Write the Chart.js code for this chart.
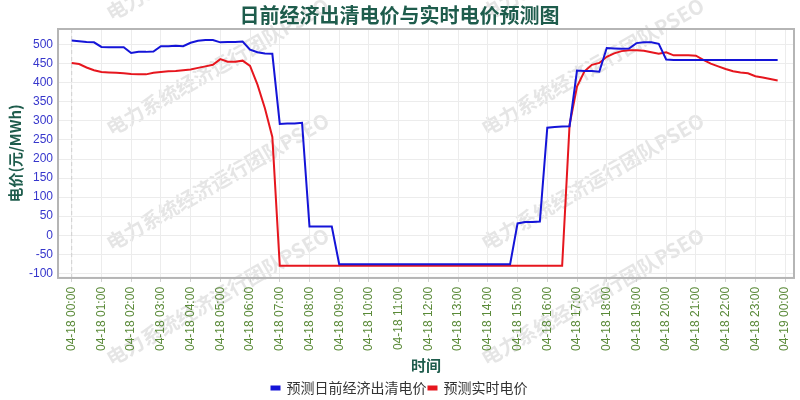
<!DOCTYPE html>
<html>
<head>
<meta charset="utf-8">
<script src="https://cdn.jsdelivr.net/npm/chart.js@4/dist/chart.umd.min.js"></script>
<style>
  html, body { margin: 0; padding: 0; background: #ffffff; }
  #wrap { width: 800px; height: 400px; position: relative; }
</style>
</head>
<body>
<div id="wrap"><canvas id="priceChart"></canvas></div>
<script>
// tick labels on the time axis (one per hour)
var hourLabels = [
  '04-18 00:00', '04-18 01:00', '04-18 02:00', '04-18 03:00', '04-18 04:00', '04-18 05:00',
  '04-18 06:00', '04-18 07:00', '04-18 08:00', '04-18 09:00', '04-18 10:00', '04-18 11:00',
  '04-18 12:00', '04-18 13:00', '04-18 14:00', '04-18 15:00', '04-18 16:00', '04-18 17:00',
  '04-18 18:00', '04-18 19:00', '04-18 20:00', '04-18 21:00', '04-18 22:00', '04-18 23:00',
  '04-19 00:00'
];
var yTicks = [-100, -50, 0, 50, 100, 150, 200, 250, 300, 350, 400, 450, 500];

// 15-minute values, 00:00 .. 23:45
var dayAhead = [
  511, 509, 507, 506,  494, 493, 493, 493,  478, 481, 481, 482,  496, 496, 497, 496,
  505, 510, 512, 512,  506, 507, 507, 508,  487, 480, 477, 476,  292, 293, 293, 295,
  23, 23, 23, 23,  -76, -76, -76, -76,  -76, -76, -76, -76,  -76, -76, -76, -76,
  -76, -76, -76, -76,  -76, -76, -76, -76,  -76, -76, -76, -76,  31, 35, 35, 36,
  282, 284, 285, 286,  432, 431, 431, 429,  491, 490, 489, 490,  504, 506, 506, 502,
  461, 460, 460, 460,  460, 460, 460, 460,  460, 460, 460, 460,  460, 460, 460, 460
];
var realTime = [
  452, 449, 440, 433,  428, 427, 426, 425,  423, 422, 422, 426,  428, 430, 431, 433,
  435, 439, 443, 447,  462, 455, 455, 458,  444, 395, 333, 258,  -80, -80, -80, -80,
  -80, -80, -80, -80,  -80, -80, -80, -80,  -80, -80, -80, -80,  -80, -80, -80, -80,
  -80, -80, -80, -80,  -80, -80, -80, -80,  -80, -80, -80, -80,  -80, -80, -80, -80,
  -80, -80, -80, 290,  390, 430, 447, 452,  468, 477, 483, 485,  485, 484, 480, 476,
  480, 472, 472, 472,  471, 460, 450, 443,  436, 430, 427, 425,  417, 414, 410, 406
];
var seriesNames = ['预测日前经济出清电价', '预测实时电价'];

var toPoints = (arr) => arr.map((v, i) => ({ x: i / 4, y: v }));

var cjk = '"Noto Sans CJK SC", "Noto Sans", sans-serif';
var latin = '"Liberation Sans", Arial, sans-serif';
var teal = '#1e5c4c';

// faint diagonal watermark behind everything
var watermark = {
  id: 'watermark',
  beforeDraw: (chart) => {
    var c = chart.ctx;
    var spots = [[108, 15], [108, 130], [108, 245], [108, 360], [483, 15], [483, 130], [483, 245], [483, 360]];
    c.save();
    c.font = 'bold 20px ' + cjk;
    c.fillStyle = 'rgba(160,160,160,0.28)';
    c.textBaseline = 'middle';
    spots.forEach((p) => {
      c.save();
      c.translate(p[0], p[1]);
      c.rotate(-30 * Math.PI / 180);
      c.fillText('电力系统经济运行团队PSEO', 0, 0);
      c.restore();
    });
    c.restore();
  }
};

// dashed line at the first hour and the box around the plot
var frame = {
  id: 'frame',
  beforeDatasetsDraw: (chart) => {
    var c = chart.ctx, a = chart.chartArea;
    var x0 = chart.scales.x.getPixelForValue(0);
    c.save();
    c.strokeStyle = '#cfcfcf';
    c.lineWidth = 1;
    c.setLineDash([4, 3]);
    c.beginPath();
    c.moveTo(x0, a.top);
    c.lineTo(x0, a.bottom);
    c.stroke();
    c.restore();
  },
  afterDatasetsDraw: (chart) => {
    var c = chart.ctx, a = chart.chartArea;
    c.save();
    c.strokeStyle = '#b5b5b5';
    c.lineWidth = 2;
    c.strokeRect(a.left, a.top, a.right - a.left, a.bottom - a.top);
    c.restore();
  }
};

var ctx = document.getElementById('priceChart').getContext('2d');
var priceChart = new Chart(ctx, {
  type: 'line',
  data: {
    datasets: [{
      label: seriesNames[0],
      data: toPoints(dayAhead),
      borderColor: '#1414d8',
      backgroundColor: '#1414d8',
      borderWidth: 2,
      pointRadius: 0,
      tension: 0,
      fill: false
    }, {
      label: seriesNames[1],
      data: toPoints(realTime),
      borderColor: '#e6161e',
      backgroundColor: '#e6161e',
      borderWidth: 2,
      pointRadius: 0,
      tension: 0,
      fill: false
    }]
  },
  options: {
    responsive: true,
    maintainAspectRatio: false,
    animation: false,
    layout: { padding: { left: 5, right: 6, top: 0, bottom: -5 } },
    plugins: {
      title: {
        display: true,
        text: '日前经济出清电价与实时电价预测图',
        color: teal,
        font: { family: cjk, size: 20, weight: 'bold' },
        padding: { top: 3, bottom: 2 }
      },
      legend: {
        position: 'bottom',
        labels: {
          boxWidth: 8,
          boxHeight: 3,
          padding: 2,
          color: '#333333',
          font: { family: cjk, size: 14 }
        }
      },
      tooltip: { enabled: false }
    },
    scales: {
      x: {
        type: 'linear',
        min: -0.46,
        max: 24.3,
        afterBuildTicks: (axis) => {
          axis.ticks = hourLabels.map((_, i) => ({ value: i }));
        },
        afterFit: (axis) => {
          axis.paddingLeft = 0;
          axis.paddingRight = 0;
        },
        ticks: {
          minRotation: 90,
          maxRotation: 90,
          autoSkip: false,
          padding: 5,
          color: '#5a8a38',
          font: { family: latin, size: 12 },
          callback: (v) => hourLabels[v]
        },
        grid: { color: '#ececec', drawTicks: true, tickLength: 4, tickColor: '#d0d0d0' },
        border: { display: false },
        title: {
          display: true,
          text: '时间',
          color: teal,
          font: { family: cjk, size: 15, weight: 'bold' },
          padding: { top: 0, bottom: 5 }
        }
      },
      y: {
        min: -112,
        max: 541,
        afterBuildTicks: (axis) => {
          axis.ticks = yTicks.map((v) => ({ value: v }));
        },
        ticks: {
          padding: 5,
          color: '#3636cc',
          font: { family: latin, size: 12 }
        },
        grid: { color: '#ececec', drawTicks: false },
        border: { display: false },
        title: {
          display: true,
          text: '电价(元/MWh)',
          color: teal,
          font: { family: cjk, size: 15, weight: 'bold' },
          padding: { top: 1, bottom: 0 }
        }
      }
    }
  },
  plugins: [watermark, frame]
});
</script>
</body>
</html>
